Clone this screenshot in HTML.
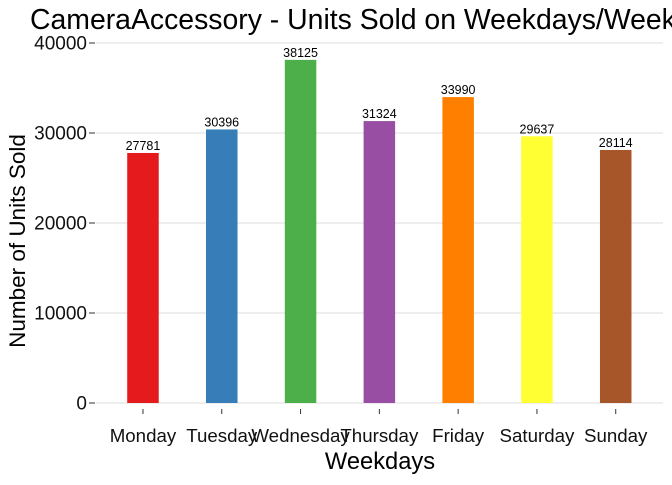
<!DOCTYPE html>
<html><head><meta charset="utf-8"><style>
body{margin:0;background:#fff;overflow:hidden;}
svg text{font-family:"Liberation Sans",Arial,sans-serif;}
</style></head><body>
<svg id="chart" width="672" height="480" viewBox="0 0 672 480">
<text x="30" y="29" font-size="28.4" fill="#000">CameraAccessory - Units Sold on Weekdays/Weekends</text>
<g id="grid"></g>
<g id="bars"></g>
<g id="yaxis"></g>
<g id="xaxis"></g>
<text x="0" y="0" transform="translate(25,241) rotate(-90)" text-anchor="middle" font-size="22.5" fill="#000">Number of Units Sold</text>
<text x="380" y="469" text-anchor="middle" font-size="23.7" fill="#000">Weekdays</text>
</svg>
<script>
const categories=["Monday","Tuesday","Wednesday","Thursday","Friday","Saturday","Sunday"];
const values=[27781,30396,38125,31324,33990,29637,28114];
const colors=["#E41A1C","#377EB8","#4DAF4A","#984EA3","#FF7F00","#FFFF33","#A65628"];
const yTicks=[0,10000,20000,30000,40000];
const NS="http://www.w3.org/2000/svg";
const left=95.7,right=663,y0=403,y1=43,ymax=40000;
const band=(right-left)/(categories.length-1+1.2);
function xPos(i){return left+band*(0.6+i);}
function yPos(v){return y0-(v/ymax)*(y0-y1);}
function mk(tag,attrs,parent){const e=document.createElementNS(NS,tag);for(const k in attrs)e.setAttribute(k,attrs[k]);parent.appendChild(e);return e;}
const grid=document.getElementById('grid'),bars=document.getElementById('bars'),ya=document.getElementById('yaxis'),xa=document.getElementById('xaxis');
yTicks.forEach(t=>{
  const y=yPos(t);
  const g=mk('line',{x1:left,x2:right,y1:y,y2:y,stroke:'#dcdcdc','stroke-width':1},grid);
  
  
  mk('line',{x1:89,x2:95,y1:y,y2:y,stroke:'#333','stroke-width':1},ya);
  const tx=mk('text',{x:87,y:y+6.5,'text-anchor':'end','font-size':19,fill:'#111'},ya);
  tx.textContent=t;
  
  
});
const bw=band*0.4;
categories.forEach((c,i)=>{
  const cx=xPos(i),y=yPos(values[i]);
  const r=mk('rect',{x:cx-bw/2,y:y,width:bw,height:y0-y,fill:colors[i]},bars);
  
  
  const lb=mk('text',{x:cx,y:y-3,'text-anchor':'middle','font-size':12.5,fill:'#000'},bars);
  lb.textContent=values[i];
  
  
  mk('line',{x1:cx,x2:cx,y1:y0+6,y2:y0+11,stroke:'#333','stroke-width':1},xa);
  const tl=mk('text',{x:cx,y:442,'text-anchor':'middle','font-size':18.7,fill:'#111'},xa);
  tl.textContent=c;
  
  
});
</script>
</body></html>
